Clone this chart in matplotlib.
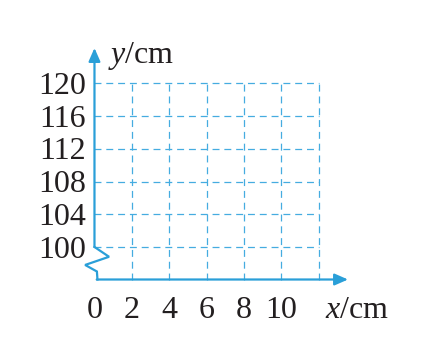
import matplotlib.pyplot as plt

plt.rcParams['font.family'] = ['Liberation Serif', 'DejaVu Serif']
plt.rcParams['mathtext.fontset'] = 'custom'
plt.rcParams['mathtext.it'] = 'Liberation Serif:italic'
plt.rcParams['mathtext.rm'] = 'Liberation Serif'
plt.rcParams['lines.scale_dashes'] = False

x_ticks = [0, 2, 4, 6, 8, 10]
y_ticks = [100, 104, 108, 112, 116, 120]
x_grid = [2, 4, 6, 8, 10, 12]
y_grid = [100, 104, 108, 112, 116, 120]

blue = '#2a9fd8'
grid_blue = '#45ace0'
ink = '#231f20'

fig = plt.figure(figsize=(4.3, 3.53), dpi=100)
ax = fig.add_axes([0, 0, 1, 1])
ax.set_xlim(-5.06, 17.97)
ax.set_ylim(87.03, 130.21)
ax.axis('off')

base = 96.02  # where the broken y axis meets the x axis
x_end = 13.58
y_end = 124.34

# grid
for g in y_grid:
    ax.plot([0, x_grid[-1]], [g, g], color=grid_blue, lw=0.9, dashes=(5, 3.5))
for g in x_grid:
    ax.plot([g, g], [base, y_grid[-1]], color=grid_blue, lw=0.9, dashes=(5, 3.5))

# axes with break
zx = [0, 0.78, -0.5, 0.13, 0.16]
zy = [100, 98.8, 97.8, 97.0, base]
ax.plot(zx, zy, color=blue, lw=1.6, solid_joinstyle='miter')
ax.annotate('', xy=(x_end, base), xytext=(zx[-1] - 0.04, base),
            arrowprops=dict(arrowstyle='-|>,head_length=0.8,head_width=0.35',
                            color=blue, lw=1.6, shrinkA=0, shrinkB=0))
ax.annotate('', xy=(0, y_end), xytext=(0, 100),
            arrowprops=dict(arrowstyle='-|>,head_length=0.8,head_width=0.35',
                            color=blue, lw=1.6, shrinkA=0, shrinkB=0))

# tick labels
for t in x_ticks:
    ax.text(t, 91.31, str(t), ha='center', va='baseline', fontsize=23, color=ink)
for t in y_ticks:
    ax.text(-0.46, t - 1.3, str(t), ha='right', va='baseline', fontsize=23, color=ink)

ax.text(12.35, 91.31, r'$x$/cm', ha='left', va='baseline', fontsize=23, color=ink)
ax.text(0.72, 122.5, r'$y$/cm', ha='left', va='baseline', fontsize=23, color=ink)

fig.savefig('out.png', dpi=100, facecolor='white')
